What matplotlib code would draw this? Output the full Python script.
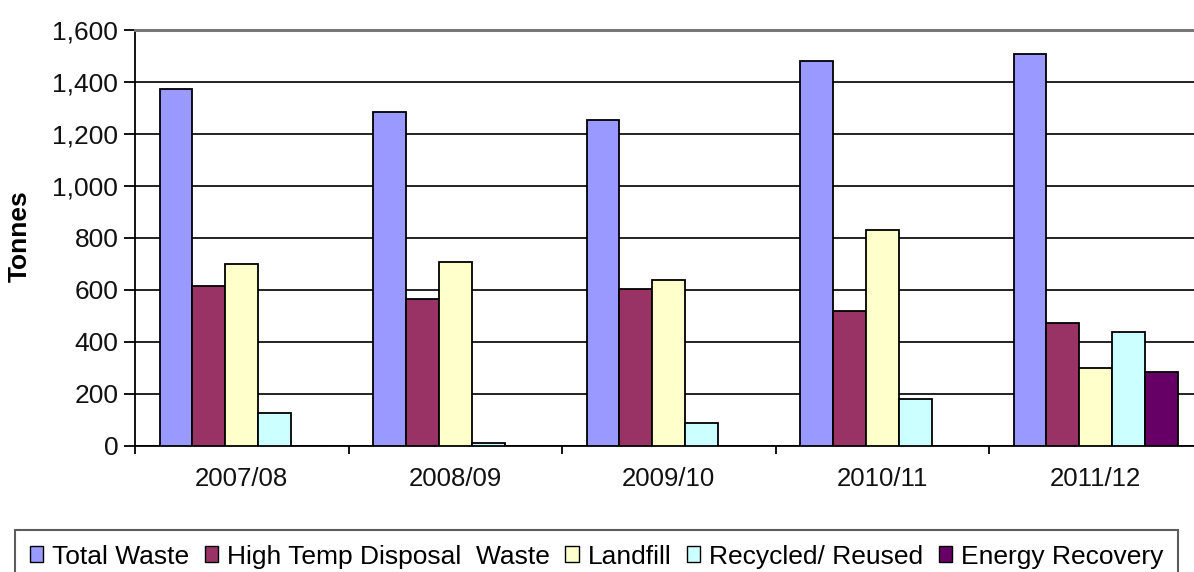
import matplotlib
matplotlib.use("Agg")
import matplotlib.pyplot as plt
from matplotlib.ticker import FuncFormatter, FixedLocator
import numpy as np

plt.rcParams['font.family'] = ['Liberation Sans', 'DejaVu Sans']

years = ["2007/08", "2008/09", "2009/10", "2010/11", "2011/12"]
series_names = ["Total Waste", "High Temp Disposal  Waste", "Landfill",
                "Recycled/ Reused", "Energy Recovery"]
total_waste = [1370, 1283, 1253, 1481, 1505]
high_temp = [614, 564, 604, 518, 472]
landfill = [700, 708, 637, 828, 299]
recycled = [125, 12, 86, 181, 438]
energy = [0, 0, 0, 0, 283]
colors = ["#9999FF", "#993366", "#FFFFCC", "#CCFFFF", "#660066"]

W, H = 1194, 572
fig = plt.figure(figsize=(W / 100, H / 100), dpi=100)
ax = fig.add_axes([135 / W, (H - 445.7) / H, (1202.5 - 135) / W, (445.7 - 29.7) / H])

values = [total_waste, high_temp, landfill, recycled, energy]
x = np.arange(len(years))
bw = 1 / 6.5
for i, (name, vals, c) in enumerate(zip(series_names, values, colors)):
    offs = (i - 2) * bw
    ax.bar(x + offs, vals, width=bw, color=c, edgecolor="black",
           linewidth=1.3, label=name, zorder=3)

ax.set_xlim(-0.5, len(years) - 0.5)
ax.set_ylim(0, 1600)
ax.set_yticks(np.arange(0, 1601, 200))
ax.yaxis.set_major_formatter(FuncFormatter(lambda v, p: f"{int(v):,}"))
ax.yaxis.grid(True, color="#222222", linewidth=1.4, zorder=0)
ax.set_axisbelow(True)

ax.set_xticks(x)
ax.set_xticklabels(years, fontsize=18.5, color="#111111")
ax.xaxis.set_minor_locator(FixedLocator(np.arange(-0.5, len(years), 1.0)))
ax.tick_params(axis="x", which="major", length=0, pad=15)
ax.tick_params(axis="x", which="minor", length=6, width=1.3, direction="out")
ax.tick_params(axis="y", length=8, width=1.3, direction="out", labelsize=19,
               pad=4, labelcolor="#111111")

ax.spines["right"].set_visible(False)
ax.spines["top"].set_color("#777777")
ax.spines["top"].set_linewidth(2.2)
ax.spines["left"].set_linewidth(1.3)
ax.spines["bottom"].set_linewidth(1.3)

fig.text(20 / W, 1 - 236 / H, "Tonnes", rotation=90, fontsize=19,
         fontweight="bold", ha="center", va="center")

leg = fig.legend(loc="upper center", bbox_to_anchor=(596.5 / W, 1 - 530 / H),
                 ncol=5, fontsize=19, frameon=True, fancybox=False,
                 handlelength=0.52, handleheight=0.52, handletextpad=0.33,
                 columnspacing=0.58, borderpad=0.55, borderaxespad=0)
leg.get_frame().set_edgecolor("#333333")
leg.get_frame().set_linewidth(1.5)
for h in leg.legend_handles:
    h.set_linewidth(1.0)

fig.savefig("out.png", dpi=100)
